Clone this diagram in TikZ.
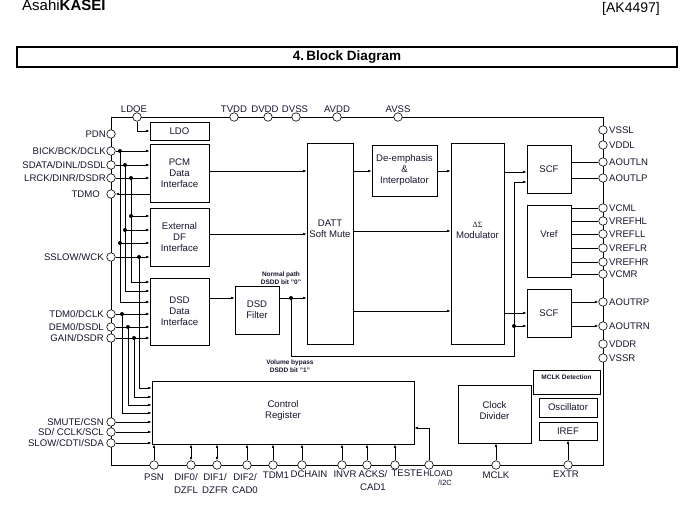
\documentclass[tikz,border=0pt]{standalone}
\usepackage{fontspec}
\setmainfont{Liberation Sans}
\newfontfamily\grk{Liberation Serif}
\usetikzlibrary{arrows.meta,calc}
\definecolor{txt}{RGB}{20,20,45}
\begin{document}
\begin{tikzpicture}[x=1pt,y=-1pt,
  font=\fontsize{9.6}{11}\selectfont,
  pin/.style={circle,draw,fill=white,inner sep=0pt,minimum size=8.5pt,line width=0.6pt},
  blk/.style={draw,line width=0.8pt,align=center,inner sep=0pt,text=txt},
  lbl/.style={inner sep=0pt,text=txt},
  ln/.style={line width=0.6pt},
  arr/.style={ln,-{Latex[length=3.5pt,width=2.6pt]}},
  darr/.style={ln,{Latex[length=3.5pt,width=2.6pt]}-{Latex[length=3.5pt,width=2.6pt]}},
  dot/.style={circle,fill,inner sep=0pt,minimum size=4pt},
  small/.style={lbl,font=\bfseries\fontsize{6.5}{8}\selectfont,align=center}
]
\useasboundingbox (0,0) rectangle (692,524);

% header
\node[anchor=base west,inner sep=0pt,font=\fontsize{15}{15}\selectfont] (logo) at (22,11) {Asahi\textbf{KASEI}};
\node[anchor=base east,inner sep=0pt,font=\fontsize{14}{14}\selectfont] (part) at (660,13) {[AK4497]};
\node[draw,line width=1.6pt,minimum width=660pt,minimum height=20pt,inner sep=0pt,font=\bfseries\fontsize{13.5}{13.5}\selectfont] (title) at (347,57) {4.\,Block Diagram};

% chip boundary
\draw[line width=0.8pt] (111,117) rectangle (603,465);

% top pins
\foreach \n/\x/\lx/\t in {ldoe/137/134/LDOE, tvdd/234/234/TVDD, dvdd/268/265/DVDD, dvss/296/295/DVSS, avdd/337/337/AVDD, avss/398/398/AVSS}{
  \node[pin] (\n) at (\x,117) {};
  \node[lbl,anchor=base] (\n-l) at (\lx,112.5) {\t};
}
% left pins
\foreach \n/\y/\lx/\t in {pdn/134/106/PDN, bick/151/106/{BICK/BCK/DCLK}, sdata/165/106/{SDATA/DINL/DSDL}, lrck/178/106/{LRCK/DINR/DSDR}, tdmo/194/100/TDMO, sslow/257/104/{SSLOW/WCK}, tdmz/314/104/{TDM0/DCLK}, demz/327/104/{DEM0/DSDL}, gain/338/104/{GAIN/DSDR}, smute/422/104/{SMUTE/CSN}, sd/432/104/{SD/ CCLK/SCL}, slow/443/104/{SLOW/CDTI/SDA}}{
  \node[pin] (\n) at (111,\y) {};
  \node[lbl,anchor=base east] (\n-l) at (\lx,\y+3.4) {\t};
}
% right pins
\foreach \n/\y/\t in {vssl/130/VSSL, vddl/145/VDDL, aoutln/162/AOUTLN, aoutlp/178/AOUTLP, vcml/208/VCML, vrefhl/221/VREFHL, vrefll/234/VREFLL, vreflr/248/VREFLR, vrefhr/262/VREFHR, vcmr/274/VCMR, aoutrp/302/AOUTRP, aoutrn/326/AOUTRN, vddr/344/VDDR, vssr/358/VSSR}{
  \node[pin] (\n) at (603,\y) {};
  \node[lbl,anchor=base west] (\n-l) at (609,\y+3.4) {\t};
}
% bottom pins
\foreach \n/\x in {psn/154, difz/191, difo/217, dift/247, tdmo1/273, dchain/302, invr/342, acks/367, teste/395, hload/429, mclk/496, extr/568}{
  \node[pin] (\n) at (\x,465) {};
}
\begin{scope}[every node/.style={lbl,anchor=north,align=center,font=\fontsize{9.6}{12.5}\selectfont}]
\node (psn-l) at (154,473.5) {PSN};
\node (difz-l) at (186,473.5) {DIF0/\\DZFL};
\node (difo-l) at (215,473.5) {DIF1/\\DZFR};
\node (dift-l) at (245,473.5) {DIF2/\\CAD0};
\node (tdmo1-l) at (276,471.5) {TDM1};
\node (dchain-l) at (309,470.5) {DCHAIN};
\node (invr-l) at (345,470.5) {INVR};
\node (acks-l) at (373,470.5) {ACKS/\\CAD1};
\node (teste-l) at (407,469.5) {TESTE};
\node (mclk-l) at (496,471.5) {MCLK};
\node (extr-l) at (566,470.5) {EXTR};
\node[font=\fontsize{8.5}{10}\selectfont] (hload-l) at (438,470) {HLOAD};
\node[font=\fontsize{7.5}{9}\selectfont,anchor=north] (i2c-l) at (445,480) {/I2C};
\end{scope}

% blocks
\node[blk,minimum width=59pt,minimum height=18pt] (ldo) at (179.5,131) {LDO};
\node[blk,minimum width=59pt,minimum height=58pt] (pcm) at (179.5,173) {PCM\\Data\\Interface};
\node[blk,minimum width=59pt,minimum height=58pt] (ext) at (179.5,237) {External\\DF\\Interface};
\node[blk,minimum width=59pt,minimum height=67pt] (dsd) at (179.5,311.5) {DSD\\Data\\Interface};
\node[blk,minimum width=44pt,minimum height=48pt] (dsdf) at (257,310) {DSD\\Filter};
\node[blk,minimum width=46pt,minimum height=201pt] (datt) at (330,243.5) {};
\node[lbl,align=center] (datt-l) at (330,229) {DATT\\Soft Mute};
\node[blk,minimum width=65pt,minimum height=51pt] (deemp) at (404.5,170.5) {De-emphasis\\\&\\Interpolator};
\node[blk,minimum width=53pt,minimum height=201pt] (mod) at (477.5,243.5) {};
\node[lbl,align=center] (mod-l) at (477.5,230) {{\grk\fontsize{8}{9}\selectfont ΔΣ}\\Modulator};
\node[blk,minimum width=44pt,minimum height=48pt] (scfa) at (549,169) {SCF};
\node[blk,minimum width=44pt,minimum height=72pt] (vref) at (549,241) {};
\node[lbl] (vref-l) at (549,234) {Vref};
\node[blk,minimum width=44pt,minimum height=48pt] (scfb) at (549,313) {SCF};
\node[blk,minimum width=262pt,minimum height=63pt] (ctrl) at (283,412.5) {};
\node[lbl,align=center] (ctrl-l) at (283,411) {Control\\Register};
\node[blk,minimum width=73pt,minimum height=58pt] (clkdiv) at (494.5,414) {};
\node[lbl,align=center] (clkdiv-l) at (494.5,411) {Clock\\Divider};
\node[blk,minimum width=67pt,minimum height=24pt] (mdet) at (566.5,382) {};
\node[small] (mdet-l) at (566.5,377) {MCLK Detection};
\node[blk,minimum width=58pt,minimum height=19pt] (osc) at (568,407.5) {Oscillator};
\node[blk,minimum width=58pt,minimum height=18pt] (iref) at (568,431) {IREF};

% LDO
\draw[arr] (ldoe) |- (ldo.west);

% left bus
\node[dot] (db1) at (120,151) {};
\node[dot] (db2) at (120,243) {};
\node[dot] (ds1) at (125,165) {};
\node[dot] (ds2) at (125,230) {};
\node[dot] (dl1) at (131,178) {};
\node[dot] (dl2) at (131,216) {};
\node[dot] (dw) at (139,257) {};
\node[dot] (dt) at (122,314) {};
\node[dot] (dd) at (128,327) {};
\node[dot] (dg) at (134,338) {};

\draw[arr] (bick) -- (bick -| pcm.west);
\draw[arr] (sdata) -- (sdata -| pcm.west);
\draw[arr] (lrck) -- (lrck -| pcm.west);
\draw[arr] (tdmo -| pcm.west) -- (tdmo);
\draw[arr] (db1.center) |- (dsd.west |- 0,302);
\draw[arr] (ds1.center) |- (dsd.west |- 0,291);
\draw[arr] (dl1.center) |- (dsd.west |- 0,282);
\draw[arr] (db2.center) -- (db2.center -| ext.west);
\draw[arr] (ds2.center) -- (ds2.center -| ext.west);
\draw[arr] (dl2.center) -- (dl2.center -| ext.west);
\draw[arr] (sslow) -- (sslow -| ext.west);
\draw[arr] (dw.center) |- (ctrl.west |- 0,388);
\draw[arr] (tdmz) -- (tdmz -| dsd.west);
\draw[arr] (demz) -- (demz -| dsd.west);
\draw[arr] (gain) -- (gain -| dsd.west);
\draw[arr] (dg.center) |- (ctrl.west |- 0,397);
\draw[arr] (dd.center) |- (ctrl.west |- 0,405);
\draw[arr] (dt.center) |- (ctrl.west |- 0,413);
\draw[arr] (smute) -- (smute -| ctrl.west);
\draw[arr] (sd) -- (sd -| ctrl.west);
\draw[arr] (slow) -- (slow -| ctrl.west);

% data path
\draw[arr] (pcm.east |- 0,171) -- (datt.west |- 0,171);
\draw[arr] (ext.east |- 0,234) -- (datt.west |- 0,234);
\draw[arr] (dsd.east |- 0,298) -- (dsdf.west |- 0,298);
\node[dot] (dn) at (291,298) {};
\draw[ln] (dsdf.east |- dn) -- (dn.center);
\draw[arr] (dn.center) -- (dn.center -| datt.west);
\node[dot] (dbp) at (514,326) {};
\draw[arr] (dn.center) -- (291,356) -- (514,356) |- (scfa.west |- 0,182);
\draw[arr] (dbp.center) -- (dbp.center -| scfb.west);
\draw[arr] (datt.east |- 0,171) -- (deemp.west |- 0,171);
\draw[arr] (deemp.east |- 0,171) -- (mod.west |- 0,171);
\draw[arr] (datt.east |- 0,231) -- (mod.west |- 0,231);
\draw[arr] (datt.east |- 0,311) -- (mod.west |- 0,311);
\draw[arr] (mod.east |- 0,172) -- (scfa.west |- 0,172);
\draw[arr] (mod.east |- 0,313) -- (scfb.west |- 0,313);

% outputs
\draw[ln] (scfa.east |- aoutln) -- (aoutln);
\draw[ln] (scfa.east |- aoutlp) -- (aoutlp);
\foreach \p in {vcml,vrefhl,vrefll,vreflr,vrefhr,vcmr}{
  \draw[ln] (vref.east |- \p) -- (\p);
}
\draw[arr] (scfb.east |- aoutrp) -- (aoutrp);
\draw[arr] (scfb.east |- aoutrn) -- (aoutrn);

% bottom connections
\draw[arr] (psn) -- (psn |- ctrl.south);
\draw[darr] (difz) -- (difz |- ctrl.south);
\draw[darr] (difo) -- (difo |- ctrl.south);
\foreach \p in {dift,tdmo1,dchain,invr,acks,teste}{
  \draw[arr] (\p) -- (\p |- ctrl.south);
}
\draw[arr] (hload) |- (ctrl.east |- 0,428);
\draw[arr] (mclk) -- (mclk |- clkdiv.south);
\draw[arr] (extr) -- (extr |- iref.south);

% path notes
\node[small] (np) at (281,278) {Normal path\\DSDD bit "0"};
\node[small] (vb) at (290,366) {Volume bypass\\DSDD bit "1"};
\end{tikzpicture}
\end{document}
